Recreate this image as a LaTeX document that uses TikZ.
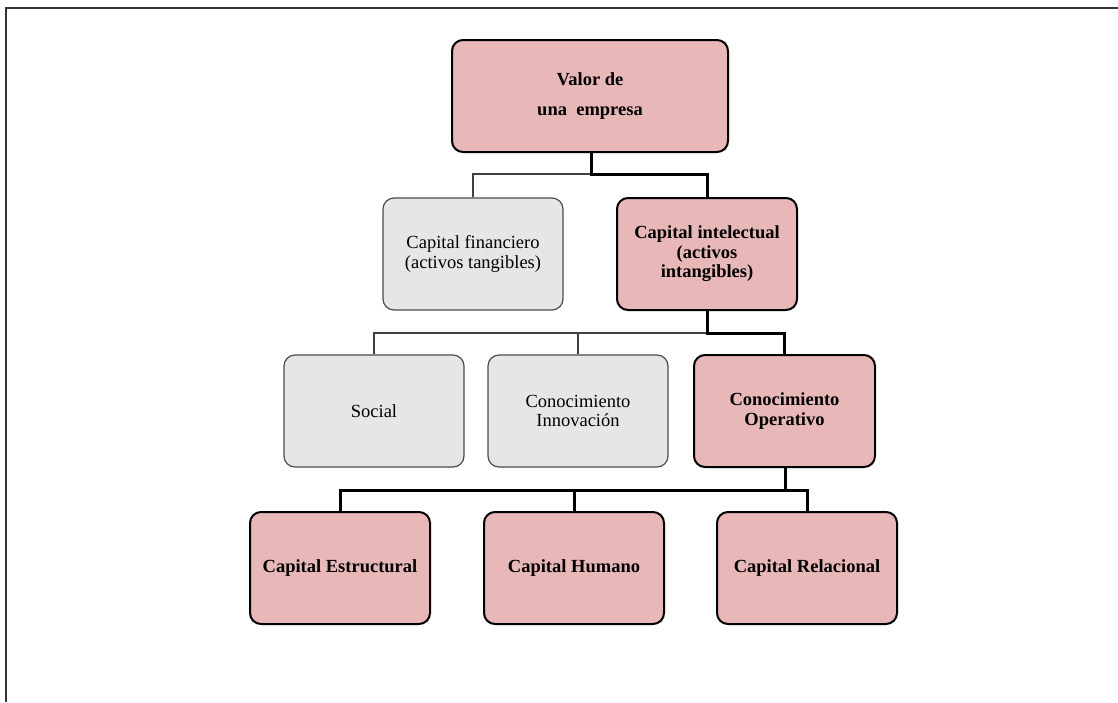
\documentclass[tikz,border=0pt]{standalone}
\usepackage{fontspec}
\setmainfont{Liberation Serif}
\definecolor{pinkfill}{HTML}{E8B8B8}
\definecolor{grayfill}{HTML}{E6E6E6}
\definecolor{frameclr}{HTML}{333333}
\begin{document}
\begin{tikzpicture}[x=1pt,y=-1pt,
  box/.style={rounded corners=11pt, align=center, inner sep=0pt, font=\fontsize{18.5}{19.5}\selectfont},
  hibox/.style={box, fill=pinkfill, draw=black, line width=2pt, font=\fontsize{18.5}{19.5}\selectfont\bfseries},
  lobox/.style={box, fill=grayfill, draw=black!70, line width=1.2pt},
  thickc/.style={draw=black, line width=3pt},
  thinc/.style={draw=black!75, line width=1.2pt}]
\useasboundingbox (0,0) rectangle (1118,702);
\draw[frameclr, line width=2pt] (1118,7.5) -- (5.5,7.5) -- (5.5,702);
% nodes
\node[hibox, minimum width=276pt, minimum height=112pt, font=\fontsize{18.5}{30}\selectfont\bfseries] (valor) at (590,96) {Valor de\\una\ \ empresa};
\node[lobox, minimum width=180pt, minimum height=112pt] (fin) at (473,254) {Capital financiero\\(activos tangibles)};
\node[hibox, minimum width=180pt, minimum height=112pt] (int) at (707,254) {Capital intelectual\\(activos\\intangibles)};
\node[lobox, minimum width=180pt, minimum height=112pt] (soc) at (374,411) {Social};
\node[lobox, minimum width=180pt, minimum height=112pt] (inn) at (578,411) {Conocimiento\\Innovación};
\node[hibox, minimum width=181pt, minimum height=112pt] (ope) at (784.5,411) {Conocimiento\\Operativo};
\node[hibox, minimum width=180pt, minimum height=112pt] (est) at (340,568) {Capital Estructural};
\node[hibox, minimum width=180pt, minimum height=112pt] (hum) at (574,568) {Capital Humano};
\node[hibox, minimum width=180pt, minimum height=112pt] (rel) at (807,568) {Capital Relacional};
% connector junctions
\coordinate (j1) at (591,174);
\coordinate (j2) at (707,333);
\coordinate (j3) at (785,490);
% level 1
\draw[thinc] (j1) -| (fin.north);
\draw[thickc] (valor.south -| j1) -- (j1) -| (int.north);
% level 2
\draw[thinc] (j2) -| (soc.north);
\draw[thinc] (inn.north) -- (inn.north |- j2);
\draw[thickc] (int.south -| j2) -- (j2) -| (ope.north);
% level 3
\draw[thickc] (ope.south -| j3) -- (j3);
\draw[thickc] (j3) -| (est.north);
\draw[thickc] (j3) -| (rel.north);
\draw[thickc] (hum.north) -- (hum.north |- j3);
\end{tikzpicture}
\end{document}
